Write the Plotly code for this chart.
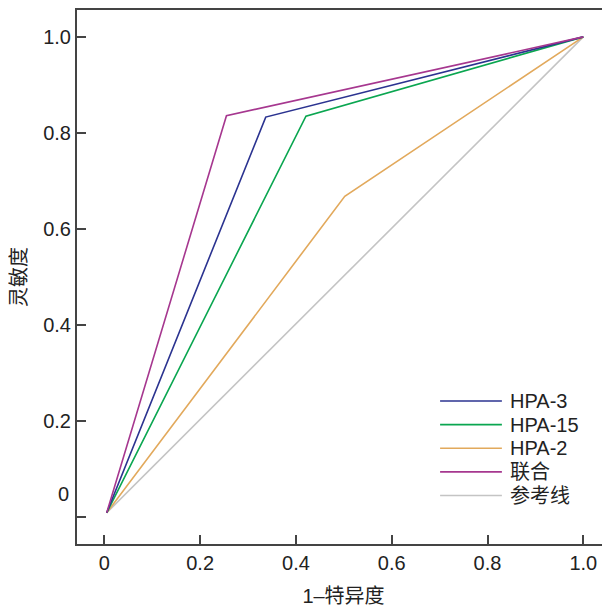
import plotly.graph_objects as go

series_names = ["HPA-3", "HPA-15", "HPA-2", "联合", "参考线"]
series_colors = ["#2b3390", "#0aa650", "#e2a95c", "#a6378f", "#c4c4c4"]
fpr_hpa3 = [0.005, 0.337, 1.0]
tpr_hpa3 = [0.009, 0.833, 1.0]
fpr_hpa15 = [0.005, 0.421, 1.0]
tpr_hpa15 = [0.009, 0.835, 1.0]
fpr_hpa2 = [0.005, 0.502, 1.0]
tpr_hpa2 = [0.009, 0.668, 1.0]
fpr_comb = [0.005, 0.255, 1.0]
tpr_comb = [0.009, 0.836, 1.0]
fpr_ref = [0.005, 1.0]
tpr_ref = [0.009, 1.0]

x_ticks = [0, 0.2, 0.4, 0.6, 0.8, 1.0]
x_tick_labels = ["0", "0.2", "0.4", "0.6", "0.8", "1.0"]
y_ticks = [0, 0.2, 0.4, 0.6, 0.8, 1.0]
y_tick_labels = ["", "0.2", "0.4", "0.6", "0.8", "1.0"]

FONT = "Liberation Sans, Arial, Noto Sans CJK SC, sans-serif"
AX = "#444444"
FS = 20

xs = [fpr_hpa3, fpr_hpa15, fpr_hpa2, fpr_comb, fpr_ref]
ys = [tpr_hpa3, tpr_hpa15, tpr_hpa2, tpr_comb, tpr_ref]

fig = go.Figure()
order = [4, 2, 1, 0, 3]
for i in order:
    fig.add_trace(go.Scatter(x=xs[i], y=ys[i], mode="lines", name=series_names[i],
                             line=dict(color=series_colors[i], width=1.6),
                             showlegend=False))

# legend drawn as line samples + text
leg_x0, leg_x1, leg_tx = 0.701, 0.830, 0.843
leg_y0, leg_dy = 0.2417, 0.0492
for k, (nm, col) in enumerate(zip(series_names, series_colors)):
    yy = leg_y0 - k * leg_dy
    fig.add_shape(type="line", xref="x", yref="y", x0=leg_x0, x1=leg_x1, y0=yy, y1=yy,
                  line=dict(color=col, width=1.6))
    fig.add_annotation(x=leg_tx, y=yy, xref="x", yref="y", text=nm, showarrow=False,
                       xanchor="left", yanchor="middle",
                       font=dict(family=FONT, size=FS, color="#222222"))

# misplaced "0" y tick label as in the original
fig.add_annotation(x=0, xref="paper", y=0.048, yref="y", text="0", showarrow=False,
                   xanchor="right", yanchor="middle", xshift=-6,
                   font=dict(family=FONT, size=FS, color="#222222"))

# the page body has an 8px margin, so the figure is sized/offset to compensate
fig.update_layout(
    width=602, height=601,
    margin=dict(l=69, r=0, t=2, b=65, autoexpand=False),
    paper_bgcolor="white", plot_bgcolor="white",
    font=dict(family=FONT, size=FS, color="#222222"),
    showlegend=False,
)
fig.update_xaxes(range=[-0.057, 1.0557], tickvals=x_ticks, ticktext=x_tick_labels,
                 ticks="inside", ticklen=9, tickwidth=1.5, tickcolor=AX,
                 showline=True, linecolor=AX, linewidth=2, mirror=True,
                 showgrid=False, zeroline=False, automargin=False,
                 title=dict(text="1–特异度", font=dict(size=FS), standoff=16))
fig.update_yaxes(range=[-0.056, 1.056], tickvals=y_ticks, ticktext=y_tick_labels,
                 ticks="inside", ticklen=9, tickwidth=1.5, tickcolor=AX,
                 showline=True, linecolor=AX, linewidth=2,
                 showgrid=False, zeroline=False, automargin=False,
                 title=dict(text="灵敏度", font=dict(size=FS), standoff=14))

fig.write_html("out.html")
